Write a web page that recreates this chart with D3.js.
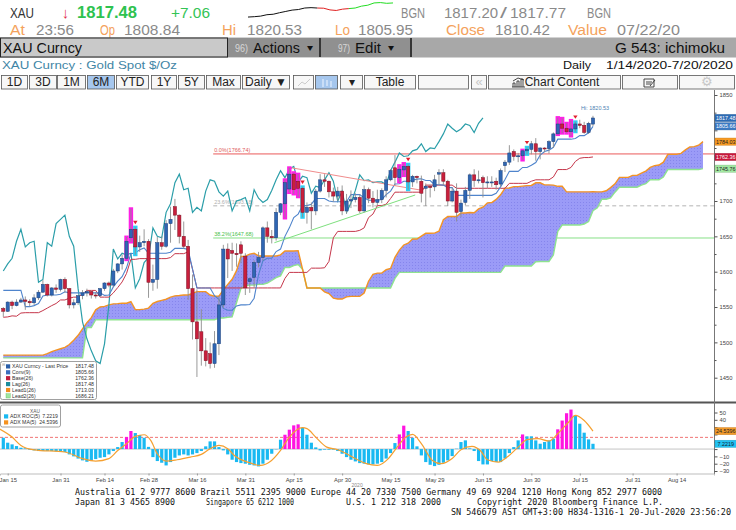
<!DOCTYPE html>
<html>
<head>
<meta charset="utf-8">
<title>XAU Curncy ichimoku</title>
<script src="https://cdn.jsdelivr.net/npm/d3@7"></script>
<style>
  body { margin: 0; background: #fff; }
  svg { display: block; }
  text { font-family: "Liberation Sans", Arial, sans-serif; }
  .mono { font-family: "DejaVu Sans Mono", "Liberation Mono", monospace; }
</style>
</head>
<body>
<svg id="chart" width="736" height="530"></svg>
<script>
// ---------- data (daily bars, 1/14/2020 - 7/20/2020) ----------
const opens = [
  1548,1544,1557,1552,1557,1560,1558,1556,1563,1571,
  1582,1567,1577,1575,1589,1576,1553,1556,1566,1570,
  1572,1567,1566,1576,1584,1581,1601,1611,1619,1648,
  1660,1635,1641,1643,1585,1589,1641,1636,1668,1692,
  1680,1650,1636,1576,1529,1515,1488,1484,1470,1498,
  1553,1632,1630,1626,1638,1622,1586,1592,1613,1620,
  1662,1650,1648,1684,1696,1717,1738,1728,1718,1684,
  1691,1686,1714,1730,1728,1713,1707,1714,1686,1700,
  1702,1705,1686,1716,1704,1698,1702,1715,1730,1747,
  1733,1744,1749,1727,1735,1728,1718,1721,1720,1738,
  1740,1728,1700,1714,1685,1698,1715,1737,1729,1733,
  1726,1727,1728,1724,1750,1755,1770,1763,1764,1771,
  1773,1781,1770,1775,1774,1784,1795,1809,1803,1798,
  1802,1809,1807,1797,1808.84];
const highs = [
  1550,1558,1559,1561,1563,1565,1561,1568,1574,1588,
  1583,1578,1582,1590,1592,1577,1561,1567,1574,1576,
  1573,1571,1577,1585,1586,1604,1612,1624,1649,1689,
  1663,1651,1660,1646,1610,1649,1650,1673,1692,1703,
  1681,1671,1645,1596,1575,1547,1506,1500,1516,1566,
  1638,1640,1641,1640,1643,1626,1592,1616,1628,1664,
  1671,1659,1690,1697,1730,1747,1740,1738,1720,1698,
  1698,1717,1738,1738,1729,1719,1720,1722,1710,1715,
  1711,1709,1722,1719,1714,1716,1718,1735,1745,1765,
  1750,1753,1752,1737,1736,1736,1725,1723,1737,1745,
  1745,1730,1719,1725,1702,1720,1739,1745,1743,1736,
  1735,1735,1733,1746,1758,1779,1773,1768,1772,1776,
  1785,1789,1776,1776,1786,1797,1818,1817,1810,1814,
  1812,1815,1812,1812,1820.53];
const lows = [
  1536,1543,1547,1551,1556,1546,1551,1553,1560,1570,
  1565,1565,1570,1572,1570,1548,1548,1553,1561,1565,
  1562,1562,1564,1573,1578,1578,1598,1603,1617,1642,
  1624,1628,1636,1563,1573,1576,1631,1634,1641,1659,
  1640,1632,1560,1504,1451,1467,1466,1463,1464,1482,
  1549,1591,1601,1607,1612,1567,1570,1577,1606,1616,
  1641,1640,1644,1680,1676,1712,1710,1706,1677,1668,
  1660,1680,1712,1720,1705,1699,1700,1680,1682,1690,
  1698,1683,1684,1697,1691,1694,1697,1705,1728,1722,
  1727,1736,1716,1720,1725,1698,1693,1705,1714,1723,
  1722,1693,1698,1671,1677,1694,1703,1720,1725,1705,
  1718,1720,1716,1720,1741,1751,1757,1755,1758,1766,
  1766,1757,1759,1769,1767,1775,1794,1796,1796,1792,
  1798,1803,1795,1795,1805.95];
const closes = [
  1544,1557,1552,1557,1560,1558,1556,1563,1571,1582,
  1567,1577,1575,1589,1576,1553,1556,1566,1570,1572,
  1567,1566,1576,1584,1581,1601,1611,1619,1643,1660,
  1635,1641,1643,1585,1589,1641,1636,1668,1674,1680,
  1650,1636,1576,1529,1505,1488,1474,1470,1498,1553,
  1632,1618,1626,1624,1626,1577,1590,1613,1620,1662,
  1650,1648,1684,1696,1726,1738,1716,1718,1684,1691,
  1686,1714,1730,1728,1713,1707,1714,1686,1700,1702,
  1705,1686,1716,1704,1698,1702,1715,1730,1743,1733,
  1745,1749,1727,1735,1733,1711,1721,1719,1730,1740,
  1728,1700,1714,1684,1697,1715,1737,1729,1730,1726,
  1727,1727,1723,1743,1755,1768,1763,1764,1771,1773,
  1781,1770,1775,1774,1784,1795,1809,1803,1798,1802,
  1809,1807,1797,1810,1817.48];

// ichimoku lines
const convLine = [
  1573.5,1573.5,1573.5,1573.5,1573.5,1550.5,1550.5,1552,1555,1565.5,
  1567,1567,1567,1568,1571.5,1570,1570,1570,1570,1570,
  1570,1570,1570,1566.5,1567,1578.5,1586.5,1593,1605.5,1625.5,
  1626.5,1631,1633.5,1626,1626,1626,1626,1626,1627.5,1633,
  1633,1633,1631.5,1603.5,1577,1577,1577,1577,1566,1561,
  1548,1545.5,1545.5,1551.5,1553,1553,1553.5,1562.5,1596,1615.5,
  1619,1619,1628.5,1632,1650,1662,1676.5,1681.5,1693.5,1693.5,
  1695.5,1703.5,1703.5,1703.5,1700,1699,1699,1699,1699,1709,
  1709,1709,1704.5,1701,1701,1701,1702,1709,1714,1724,
  1724.5,1728,1728,1729.5,1731,1731.5,1729,1729,1723,1723,
  1722.5,1719,1719,1708,1708,1708,1708,1708,1708,1708,
  1708,1708,1711,1720,1730.5,1742,1742,1742,1747.5,1747.5,
  1750.5,1754.5,1765,1770,1772,1776,1787.5,1787.5,1787.5,1787.5,
  1788.5,1792.5,1792.5,1796.5,1805.66];
const baseLine = [
  1535.5,1536,1537.5,1537,1541.5,1542,1542,1542,1542,1545,
  1548.5,1552,1555,1560,1560,1562.5,1564,1564,1568.5,1573.5,
  1573.5,1573.5,1564,1564,1564,1570,1577.5,1585.5,1597.5,1617.5,
  1617.5,1618.5,1618.5,1618.5,1618.5,1618.5,1618.5,1618.5,1620,1625.5,
  1625.5,1625.5,1628,1603.5,1577,1577,1577,1577,1577,1577,
  1577,1577,1577,1577,1577,1577,1577,1577,1577,1577,
  1577,1577,1577,1577,1590.5,1599,1599,1599,1599,1599,
  1605,1605,1605,1605.5,1614.5,1648,1657,1657,1657,1657,
  1657,1658.5,1662,1676.5,1681.5,1693.5,1693.5,1695.5,1703.5,1712.5,
  1712.5,1712.5,1712.5,1712.5,1712.5,1712.5,1722.5,1722.5,1722.5,1722.5,
  1722.5,1722.5,1722.5,1718,1718,1718,1718,1718,1718,1718,
  1718,1718,1718,1718,1718,1725,1725,1725,1725,1725,
  1728,1730,1730,1730,1730,1734,1744.5,1744.5,1744.5,1747.5,
  1756,1760.5,1761.5,1761.5,1762.36];
const lead1Line = [
  1482,1482,1482,1482,1482,1482,1482,1482,1482,1482,
  1484,1487,1489,1491,1493,1497,1503,1510,1519,1528,
  1535,1546,1550,1551,1553,1554.5,1554.8,1555.5,1555.3,1557.5,
  1546.3,1546.3,1547,1548.5,1555.3,1557.8,1559.5,1561,1564,1565.8,
  1566.3,1567,1567,1569.3,1571.8,1571.8,1571.8,1567,1565.3,1565.5,
  1574.3,1582,1589.3,1601.5,1621.5,1622,1624.8,1626,1622.3,1622.3,
  1622.3,1622.3,1622.3,1623.8,1629.3,1629.3,1629.3,1629.8,1603.5,1577,
  1577,1577,1577,1571.5,1569,1562.5,1561.3,1561.3,1564.3,1565,
  1565,1565.3,1569.8,1586.5,1596.3,1598,1598,1602.8,1604.5,1620.3,
  1630.5,1637.8,1640.3,1646.3,1646.3,1650.3,1654.3,1654.3,1654.5,1657.3,
  1673.5,1678,1678,1678,1683,1683,1683.8,1683.3,1688.8,1691.3,
  1697.3,1697.8,1702.3,1708.8,1718.3,1718.5,1720.3,1720.3,1721,1721.8,
  1722,1725.8,1725.8,1722.8,1722.8,1722.5,1720.8,1720.8,1713,1713,
  1713,1713,1713,1713,1713.03,1713,1713,1714.5,1719,1724.3,
  1733.5,1733.5,1733.5,1736.3,1736.3,1739.3,1742.3,1747.5,1750,1751,
  1755,1766,1766,1766,1767.5,1772.3,1776.5,1777,1779,1784.03];
const lead2Line = [
  1478,1478,1478,1478,1478,1478,1478,1478,1478,1478,
  1478,1478,1478,1478,1478,1478,1478,1478,1478,1521,
  1521,1532,1532,1532,1532,1532,1532,1532,1532,1532,
  1532,1532,1532,1532,1532,1532,1532,1532,1532,1532,
  1532,1532,1532,1532,1532,1532,1532,1532,1532,1534.5,
  1534.5,1535.5,1536,1556,1576,1580.5,1581,1581,1582,1582,
  1584,1587.5,1591.5,1594,1606,1606,1608.5,1610,1603.5,1577,
  1577,1577,1577,1577,1577,1577,1577,1577,1577,1577,
  1577,1577,1577,1577,1577,1577,1577,1577,1577,1590.5,
  1599,1599,1599,1599,1599,1599,1599,1599,1599,1599,
  1599,1599,1599,1599,1599,1599,1599,1599,1599,1599,
  1599,1599,1599,1599,1608,1608,1608,1608,1608,1608,
  1608,1614,1614.5,1614.5,1614.5,1623.5,1657,1666,1666,1666,
  1666,1666,1667.5,1671,1686.21,1690.5,1702.5,1702.5,1704.5,1712.5,
  1719.5,1719.5,1719.5,1719.5,1719.5,1722.5,1724.5,1730,1730,1730,
  1734,1744.5,1744.5,1744.5,1744.5,1744.5,1744.5,1744.5,1744.5,1745.76];
const lagShift = 25;

// ADX ROC(5) histogram and its MA(5)
const adxRoc = [
  15.5,8.7,6.4,4.1,1.8,1.0,-0.9,-1.8,-2.7,-2.7,
  -2.7,-2.7,-3.2,-3.2,-4.1,-7.3,-10,-13,-15.5,-17.4,
  -15.5,-13.7,-11.9,-11,-7.3,-2.7,2.7,9.6,16.4,24.7,
  21.9,19.2,15.5,3,-11,-16.4,-18.7,-22.4,-17.8,-11.9,
  -8.7,-7.3,-8.7,-7.3,-5.5,-2.7,3.7,10.5,10.5,2.7,
  -1.8,-7.3,-14.6,-17.8,-19.2,-20,-21.5,-22.4,-23.7,-20,
  -14.6,-6.4,-0.5,12.8,19.6,26.5,32.4,33.8,29.2,19.6,
  8.7,2.3,-1.8,-0.9,-0.9,-0.9,-2.7,-6.4,-11,-14.6,
  -16.9,-19.2,-20,-21,-21,-20,-17.8,-13,-5.5,8.2,
  20,32,24.7,15.5,3.7,-8.7,-17.8,-21.5,-23.3,-21.5,
  -18.7,-15.5,-9.6,0.5,9.6,11.9,1.0,-2.7,-16.4,-21,
  -21,-16.4,-17.8,-17.8,-13,-5.5,2.7,11.9,20,17.4,
  17.4,11.9,7.3,9.6,11.9,14.2,27,39,49,54,
  46,34.7,22.4,13.2,7.2219];
const adxMaPts = [
  [-1,28],[2,16.4],[4,5],[7,-1],[14,-4],[18,-13],[21,-16.4],[24,-13],[26,-2],[28,7.3],
  [30,17.4],[32,19.6],[33.5,11.9],[35,-6.4],[37,-16.4],[39.5,-14.6],[42.5,-11],[45,-7.3],[47,0.5],[49,5],
  [51,0.5],[52.5,-8.7],[55.5,-17.8],[58.5,-22.4],[60.5,-17.8],[63,-1.8],[65,16.4],[68,29.2],[69,27.9],[71,16.4],
  [73.5,2.7],[76,-0.9],[78,-6.4],[80.5,-14.6],[82.5,-20],[85,-22.4],[87.5,-13],[89.5,2.7],[91.5,16.4],[93,20],
  [95,7.3],[97.5,-15.5],[99.5,-20],[102,-13],[104,-0.9],[106.5,3.7],[108.5,-2.7],[110,-14.6],[112.5,-17.8],[114.5,-11],
  [117,2.7],[119,12.8],[121.5,14.2],[124,11],[126,21],[128.5,37],[130,46],[132,39],[134,24.5396]];
const adxLevel = 16;

// drawn studies: fib retracement and trend lines [bar index, price]
const fibNames = ["0.0%", "23.6%", "38.2%"];
const fibValues = [1766.74, 1693.18, 1647.68];
const fibStart = 47.7;
const trendFrom = [[65, 1747.5], [61.6, 1641]];
const trendTo = [[94.7, 1715.6], [93.6, 1708.5]];

// axes
const priceTicks = [1450, 1500, 1550, 1600, 1650, 1700, 1750, 1800, 1850];
const priceMinor = [1475, 1525, 1575, 1625, 1675, 1725, 1775, 1825];
const rocTicks = [-30, -20, -10, 0, 10, 20, 30, 40, 50];
const tickLabels = ["Jan 15","Jan 31","Feb 14","Feb 28","Mar 16","Mar 31","Apr 15","Apr 30",
                    "May 15","May 29","Jun 15","Jun 30","Jul 15","Jul 31","Aug 14"];
const yearLabel = ["2020", 80.4];

// header sparkline (intraday)
const sparkPrices = [1803,1803.4,1804,1805.5,1806,1807.6,1809,1810.4,1811,1812.6,1813,1812.6,
                     1812.4,1810.6,1810,1811.4,1812,1812.6,1814.6,1815.6,1818,1818.4,1817.6,1818];
const sparkBreaks = [11, 16];

// ---------- drawing ----------
const svg = d3.select("#chart");
const plotRight = 714;
const x = d3.scaleLinear().domain([-0.75, 161.5]).range([0, plotRight]);
const y = d3.scaleLinear().domain([1450, 1850]).range([377.7, 95]);
const yb = d3.scaleLinear().domain([-30, 50]).range([471, 412.5]);
const f2 = d3.format(".2f");

const tradingDays = d3.timeDay.range(new Date(2020, 0, 14), new Date(2020, 8, 1))
  .filter(d => d.getDay() !== 0 && d.getDay() !== 6);
const fmtDay = d3.timeFormat("%b %d");
const tickIdx = tickLabels.map(s => tradingDays.findIndex(d => fmtDay(d) === s));

const defs = svg.append("defs");
defs.append("clipPath").attr("id", "clipMain").append("rect")
  .attr("x", 0).attr("y", 90).attr("width", plotRight).attr("height", 312);
defs.append("clipPath").attr("id", "clipLow").append("rect")
  .attr("x", 0).attr("y", 404).attr("width", plotRight).attr("height", 69);
const pat = defs.append("pattern").attr("id", "cloudDots")
  .attr("width", 3).attr("height", 3).attr("patternUnits", "userSpaceOnUse");
pat.append("rect").attr("width", 3).attr("height", 3).attr("fill", "#9b9bf7");
pat.append("rect").attr("x", 1).attr("y", 1).attr("width", 1).attr("height", 1).attr("fill", "#8585ec");

function fitText(g, s, x0, x1, base, size, fill, weight) {
  return g.append("text").attr("x", x0).attr("y", base)
    .attr("font-size", size).attr("fill", fill).attr("font-weight", weight || "normal")
    .attr("textLength", x1 - x0).attr("lengthAdjust", "spacingAndGlyphs").text(s);
}

// --- header rows
const head = svg.append("g");
fitText(head, "XAU", 10, 34, 17.5, 14, "#333");
fitText(head, "\u2193", 62, 69, 17.5, 15, "#e2304c");
fitText(head, f2(closes[134]), 77, 137, 17.5, 16.5, "#2ec24f", "bold");
fitText(head, "+7.06", 171, 210, 17.5, 14, "#33c455");

const sx = d3.scaleLinear().domain([0, sparkPrices.length - 1]).range([248, 393]);
const sy = d3.scaleLinear().domain([1802, 1819]).range([18, 2]);
const sparkSegs = [[0, sparkBreaks[0], "#111"], [sparkBreaks[0], sparkBreaks[1], "#e02020"],
                   [sparkBreaks[1], sparkPrices.length - 1, "#22dd22"]];
sparkSegs.forEach(([a, b, c]) => {
  head.append("path").attr("fill", "none").attr("stroke", c).attr("stroke-width", 1)
    .attr("d", d3.line().x(i => sx(i)).y(i => sy(sparkPrices[i]))(d3.range(a, b + 1)));
});
fitText(head, "BGN", 401, 425, 17.5, 14, "#8a8a8a");
fitText(head, "1817.20", 444, 498, 17.5, 14, "#8a8a8a");
fitText(head, "/", 500, 507, 17.5, 14, "#8a8a8a");
fitText(head, "1817.77", 510, 566, 17.5, 14, "#8a8a8a");
fitText(head, "BGN", 587, 611, 17.5, 14, "#8a8a8a");

const orange = "#f4a25c", grey = "#8a8a8a";
[["At", 10, 25, orange], ["23:56", 36, 74, grey], ["Op", 100, 115, orange], [f2(opens[134]), 124, 180, grey],
 ["Hi", 222, 236, orange], [f2(highs[134]), 247, 302, grey], ["Lo", 335, 350, orange], [f2(lows[134]), 358, 413, grey],
 ["Close", 446, 485, orange], ["1810.42", 495, 550, grey], ["Value", 568, 607, orange], ["07/22/20", 617, 680, grey]]
  .forEach(([s, a, b, c]) => fitText(head, s, a, b, 35, 14, c));

// row 3: security bar
head.append("rect").attr("x", 0).attr("y", 37.5).attr("width", 736).attr("height", 20).attr("fill", "#a8a8a8");
head.append("rect").attr("x", 0.5).attr("y", 38).attr("width", 227).attr("height", 19)
  .attr("fill", "#c9c9c9").attr("stroke", "#222");
head.append("rect").attr("x", 228).attr("y", 38).attr("width", 91).attr("height", 19).attr("fill", "#909090");
head.append("rect").attr("x", 321).attr("y", 38).attr("width", 89).attr("height", 19).attr("fill", "#909090");
head.append("line").attr("x1", 320).attr("x2", 320).attr("y1", 38).attr("y2", 57).attr("stroke", "#111").attr("stroke-width", 1.5);
head.append("line").attr("x1", 411).attr("x2", 411).attr("y1", 38).attr("y2", 57).attr("stroke", "#111").attr("stroke-width", 1.5);
fitText(head, "XAU Curncy", 3, 82, 52.5, 15, "#111");
fitText(head, "96)", 235, 248, 52, 11, "#d8d8d8");
fitText(head, "Actions", 253, 300, 52.5, 15, "#111");
fitText(head, "\u25BE", 307, 313, 51, 10, "#111");
fitText(head, "97)", 338, 350, 52, 11, "#d8d8d8");
fitText(head, "Edit", 355, 381, 52.5, 15, "#111");
fitText(head, "\u25BE", 388, 394, 51, 10, "#111");
fitText(head, "G 543: ichimoku", 615, 725, 53, 15, "#111");

// row 4: description
fitText(head, "XAU Curncy : Gold Spot   $/Oz", 2, 177, 68.5, 11.5, "#3f86a6");
fitText(head, "Daily", 563, 591, 68.5, 11.5, "#111");
fitText(head, "1/14/2020-7/20/2020", 606, 733, 68.5, 11.5, "#111");

// row 5: toolbar
const buttons = [["1D", 1, 28], ["3D", 29, 57], ["1M", 57, 86], ["6M", 87, 115, 1], ["YTD", 116, 149],
  ["1Y", 151, 177], ["5Y", 178, 205], ["Max", 206, 241], ["Daily \u25BC", 242, 290], ["", 293, 314],
  ["", 315, 338, 1], ["\u25BE", 340, 363], ["Table", 364, 416], ["", 418, 469], ["\u00AB", 471, 487],
  ["Chart Content", 488, 621], ["", 622, 678], ["\u2699", 679, 735]];
const tb = svg.append("g");
buttons.forEach(([s, a, b, sel]) => {
  tb.append("rect").attr("x", a + 0.5).attr("y", 75.5).attr("width", b - a - 1).attr("height", 13.5)
    .attr("fill", sel ? "#a6c7ee" : "#f7f7f7").attr("stroke", "#555").attr("stroke-width", 0.8);
  if (s) {
    const light = s === "\u00AB" || s === "\u2699";
    tb.append("text").attr("x", s === "Chart Content" ? 562 : (a + b) / 2).attr("y", 86)
      .attr("text-anchor", "middle").attr("font-size", light ? 13 : 12)
      .attr("fill", light ? "#c8c8c8" : "#222").text(s);
  }
});
// toolbar icons
tb.append("path").attr("d", "M298,86 L302,82 L305,84 L310,79").attr("fill", "none").attr("stroke", "#ccc");
tb.append("path").attr("d", "M323,79 V87 M327,80 V86 M331,81 V87").attr("stroke", "#d6e6fa").attr("stroke-width", 1.5);
tb.append("path").attr("d", "M513,87 V83 H515 V87 M517,87 V81 H519 V87 M521,87 V79 H523 V87 M512,87 H525 M513,81 L518,78 L524,80")
  .attr("fill", "none").attr("stroke", "#333").attr("stroke-width", 0.9);
tb.append("path").attr("d", "M644,79 H654 V87 H644 Z M646,82 H652 M646,84 H651 M650,86 L655,80")
  .attr("fill", "none").attr("stroke", "#333").attr("stroke-width", 0.9);

// --- main panel
const main = svg.append("g").attr("clip-path", "url(#clipMain)");

// fib levels
const fibColors = ["#f3a0a0", "#b4b4b4", "#86e086"];
fibValues.forEach((v, k) => {
  main.append("line").attr("x1", x(fibStart)).attr("x2", plotRight)
    .attr("y1", y(v)).attr("y2", y(v)).attr("stroke", fibColors[k])
    .attr("stroke-width", k === 0 ? 1.6 : 1).attr("stroke-dasharray", k === 1 ? "4,3" : null);
  main.append("text").attr("x", x(fibStart) + 1).attr("y", y(v) - 2).attr("font-size", 5.5)
    .attr("fill", k === 0 ? "#e05a5a" : (k === 1 ? "#b0b0b0" : "#48c048"))
    .text(fibNames[k] + "(" + f2(v) + ")");
});

// cloud
const cloud = d3.area().x((d, j) => x(j)).y0((d, j) => y(lead2Line[j])).y1(d => y(d));
main.append("path").datum(lead1Line).attr("d", cloud).attr("fill", "url(#cloudDots)");
const idxLine = d3.line().x((d, i) => x(i)).y(d => y(d));
main.append("path").datum(lead2Line).attr("d", idxLine).attr("fill", "none").attr("stroke", "#8fe38f").attr("stroke-width", 1.4);
main.append("path").datum(lead1Line).attr("d", idxLine).attr("fill", "none").attr("stroke", "#f39424").attr("stroke-width", 1.4);

// lagging span
main.append("path").datum(closes.slice(lagShift)).attr("d", idxLine)
  .attr("fill", "none").attr("stroke", "#2b9ea9").attr("stroke-width", 1.2);
main.append("path").datum(baseLine).attr("d", idxLine).attr("fill", "none").attr("stroke", "#c5364a").attr("stroke-width", 1);
main.append("path").datum(convLine).attr("d", idxLine).attr("fill", "none").attr("stroke", "#4f84cc").attr("stroke-width", 1.1);

// trend lines
trendFrom.forEach((p, k) => {
  main.append("line").attr("x1", x(p[0])).attr("y1", y(p[1]))
    .attr("x2", x(trendTo[k][0])).attr("y2", y(trendTo[k][1]))
    .attr("stroke", k === 0 ? "#f08c8c" : "#7ee07e").attr("stroke-width", 1);
});

// signal state from the ADX ROC study
const state = adxRoc.map((v, i) => {
  const p = i > 0 ? adxRoc[i - 1] : -Infinity;
  const pp = i > 1 ? adxRoc[i - 2] : -Infinity;
  if (v > adxLevel && v > p) return "up";
  if (v > adxLevel && p > adxLevel && p > pp && v <= p) return "turn";
  return null;
});

const bars = closes.map((c, i) => ({ i, o: opens[i], h: highs[i], l: lows[i], c, s: state[i] }));
const slot = x(1) - x(0);
main.selectAll("rect.hl").data(bars.filter(d => d.s)).enter().append("rect")
  .attr("x", d => x(d.i) - slot / 2).attr("width", slot)
  .attr("y", d => y(d.h) - 1.5).attr("height", d => y(d.l) - y(d.h) + 3)
  .attr("fill", d => d.s === "up" ? "#ff1ee6" : "#2cd0f6");

const bw = 3.2;
const cg = main.selectAll("g.candle").data(bars).enter().append("g");
cg.append("line").attr("x1", d => x(d.i)).attr("x2", d => x(d.i))
  .attr("y1", d => y(d.h)).attr("y2", d => y(d.l)).attr("stroke", "#8d8d8d").attr("stroke-width", 0.9);
cg.append("rect").attr("x", d => x(d.i) - bw / 2).attr("width", bw)
  .attr("y", d => y(Math.max(d.o, d.c))).attr("height", d => Math.max(1, Math.abs(y(d.o) - y(d.c))))
  .attr("fill", d => d.c >= d.o ? "#2f66b3" : "#c81f3c")
  .attr("stroke", d => d.c >= d.o ? "#1a3f78" : "#7c1022").attr("stroke-width", 0.5);

// turn markers
main.selectAll("path.tri").data(bars.filter(d => d.s === "turn")).enter().append("path")
  .attr("d", "M-2.2,-3.4 L2.2,-3.4 L0,0 Z")
  .attr("transform", d => "translate(" + x(d.i) + "," + (y(d.h) - 3) + ")")
  .attr("fill", "#e21f2e");

// high label
main.append("text").attr("x", x(134) - 12).attr("y", y(highs[134]) - 6)
  .attr("font-size", 5.5).attr("fill", "#4c7fb2").text("Hi: " + f2(highs[134]));

// main legend
const leg = svg.append("g");
leg.append("rect").attr("x", 0.5).attr("y", 361.5).attr("width", 96).attr("height", 38)
  .attr("fill", "#fff").attr("stroke", "#a0a0a0").attr("rx", 2);
const legRows = [["XAU Curncy - Last Price", closes[134], "#2a5ea8"], ["Conv(9)", convLine[134], "#3b6fbf"],
  ["Base(26)", baseLine[134], "#c11f3d"], ["Lag(26)", closes[134], "#1b8c9c"],
  ["Lead1(26)", lead1Line[134], "#f28c1c"], ["Lead2(26)", lead2Line[134], "#9ee59e"]];
leg.append("text").attr("x", 1.5).attr("y", 366).attr("font-size", 4).attr("fill", "#999").text("\u229F");
legRows.forEach(([s, v, c], k) => {
  const yy = 366.5 + k * 5.9;
  leg.append("rect").attr("x", 6).attr("y", yy - 2.2).attr("width", 4.2).attr("height", 4.2)
    .attr("fill", c).attr("stroke", k === 5 ? "#5fbf5f" : "none").attr("stroke-width", 0.4);
  leg.append("text").attr("x", 12).attr("y", yy + 1.8).attr("font-size", 5.2).attr("fill", "#333").text(s);
  leg.append("text").attr("x", 94).attr("y", yy + 1.8).attr("font-size", 5.2).attr("fill", "#333")
    .attr("text-anchor", "end").text(f2(v));
});

// --- lower panel
const low = svg.append("g").attr("clip-path", "url(#clipLow)");
low.append("line").attr("x1", 0).attr("x2", plotRight).attr("y1", yb(0)).attr("y2", yb(0)).attr("stroke", "#c4c4c4");
low.append("line").attr("x1", 0).attr("x2", plotRight).attr("y1", yb(adxLevel)).attr("y2", yb(adxLevel))
  .attr("stroke", "#f07474").attr("stroke-dasharray", "3,2");
low.selectAll("rect.roc").data(adxRoc).enter().append("rect")
  .attr("x", (d, i) => x(i) - 1.6).attr("width", 3.2)
  .attr("y", d => yb(Math.max(0, d))).attr("height", d => Math.abs(yb(d) - yb(0)))
  .attr("fill", (d, i) => state[i] === "up" ? "#ff14e0" : "#19b9f2");
low.append("path").datum(adxMaPts)
  .attr("d", d3.line().x(d => x(d[0])).y(d => yb(d[1])).curve(d3.curveMonotoneX))
  .attr("fill", "none").attr("stroke", "#f5a030").attr("stroke-width", 1.2);

const lleg = svg.append("g");
lleg.append("rect").attr("x", 0.5).attr("y", 405).attr("width", 60).attr("height", 22)
  .attr("fill", "#fff").attr("stroke", "#a0a0a0").attr("rx", 2);
lleg.append("text").attr("x", 35).attr("y", 412.5).attr("font-size", 4.8).attr("fill", "#555")
  .attr("text-anchor", "middle").text("XAU");
[["ADX ROC(5)", adxRoc[134].toFixed(4), "#19b9f2"], ["ADX MA(5)", adxMaPts[adxMaPts.length - 1][1].toFixed(4), "#f5921e"]]
  .forEach(([s, v, c], k) => {
    const yy = 416.5 + k * 6;
    lleg.append("rect").attr("x", 4).attr("y", yy - 2.2).attr("width", 4.2).attr("height", 4.2).attr("fill", c);
    lleg.append("text").attr("x", 10).attr("y", yy + 1.8).attr("font-size", 5.2).attr("fill", "#333").text(s);
    lleg.append("text").attr("x", 58).attr("y", yy + 1.8).attr("font-size", 5.2).attr("fill", "#333")
      .attr("text-anchor", "end").text(v);
  });

// --- separators and axes
svg.append("line").attr("x1", 0).attr("x2", 736).attr("y1", 402.5).attr("y2", 402.5)
  .attr("stroke", "#555").attr("stroke-width", 2);
svg.append("line").attr("x1", plotRight + 0.5).attr("x2", plotRight + 0.5).attr("y1", 90).attr("y2", 474)
  .attr("stroke", "#777");

// value tags on the right axis (they hide the tick labels underneath, as in the terminal)
const mainTags = [[closes[134], "#2d6cb6", "#fff"], [convLine[134], "#3b79c3", "#fff"],
  [lead1Line[159], "#f79a22", "#222"], [baseLine[134], "#c8183c", "#fff"], [lead2Line[159], "#a2e8a2", "#222"]];
const lowTags = [[adxMaPts[adxMaPts.length - 1][1], "#f39a2a", "#222"], [adxRoc[134], "#22c2f2", "#123"]];
const hidden = (scale, tags) => v => tags.some(t => Math.abs(scale(t[0]) - scale(v)) < 7);

function styleAxis(g) {
  g.select(".domain").remove();
  g.selectAll("line").attr("stroke", "#555");
  g.selectAll("text").attr("font-size", 5.8).attr("fill", "#444")
    .attr("font-family", "'Liberation Sans', Arial, sans-serif");
}
const hidMain = hidden(y, mainTags), hidLow = hidden(yb, lowTags);
svg.append("g").attr("transform", "translate(" + (plotRight + 0.5) + ",0)")
  .call(d3.axisRight(y).tickValues(priceTicks).tickSize(3).tickPadding(2)
    .tickFormat(v => hidMain(v) ? "" : d3.format("d")(v)))
  .call(styleAxis);
svg.append("g").attr("transform", "translate(" + (plotRight + 0.5) + ",0)")
  .call(d3.axisRight(y).tickValues(priceMinor).tickSize(2).tickFormat(""))
  .call(styleAxis);
svg.append("g").attr("transform", "translate(" + (plotRight + 0.5) + ",0)")
  .call(d3.axisRight(yb).tickValues(rocTicks).tickSize(3).tickPadding(2)
    .tickFormat(v => hidLow(v) ? "" : d3.format("d")(v)))
  .call(styleAxis);

const xAxisG = svg.append("g").attr("transform", "translate(0,473.5)")
  .call(d3.axisBottom(x).tickValues(tickIdx).tickSize(2).tickPadding(2)
    .tickFormat((d, k) => tickLabels[k]));
xAxisG.select(".domain").attr("stroke", "#bdbdbd");
xAxisG.selectAll("line").attr("stroke", "#999");
xAxisG.selectAll("text").attr("font-size", 5.8).attr("fill", "#444")
  .attr("font-family", "'Liberation Sans', Arial, sans-serif");
svg.append("text").attr("x", x(yearLabel[1])).attr("y", 487).attr("text-anchor", "middle")
  .attr("font-size", 5).attr("fill", "#888").text(yearLabel[0]);

const tagW = 21.5;
function tag(v, fill, ink, scale, txt) {
  const g = svg.append("g");
  g.append("rect").attr("x", plotRight + 1).attr("y", scale(v) - 3.6).attr("width", tagW).attr("height", 7.2)
    .attr("fill", fill).attr("stroke", d3.color(fill).darker(0.6)).attr("stroke-width", 0.4);
  g.append("text").attr("x", plotRight + 1 + tagW / 2).attr("y", scale(v) + 2)
    .attr("text-anchor", "middle").attr("font-size", 5.4).attr("fill", ink).text(txt);
}
mainTags.forEach(([v, c, ink]) => tag(v, c, ink, y, f2(v)));
lowTags.forEach(([v, c, ink]) => tag(v, c, ink, yb, v.toFixed(4)));

// --- footer
const foot = svg.append("g");
function footText(s, x0, x1, base) {
  foot.append("text").attr("class", "mono").attr("x", x0).attr("y", base).attr("font-size", 8)
    .attr("fill", "#111").attr("textLength", x1 - x0).attr("lengthAdjust", "spacingAndGlyphs").text(s);
}
footText("Australia 61 2 9777 8600 Brazil 5511 2395 9000 Europe 44 20 7330 7500 Germany 49 69 9204 1210 Hong Kong 852 2977 6000", 75, 662, 495);
footText("Japan 81 3 4565 8900", 75, 175, 505);
footText("Singapore 65 6212 1000", 206, 294, 505);
footText("U.S. 1 212 318 2000", 346, 441, 505);
footText("Copyright 2020 Bloomberg Finance L.P.", 477, 663, 505);
footText("SN 546679 AST  GMT+3:00 H834-1316-1 20-Jul-2020 23:56:20", 451, 731, 515);
</script>
</body>
</html>
